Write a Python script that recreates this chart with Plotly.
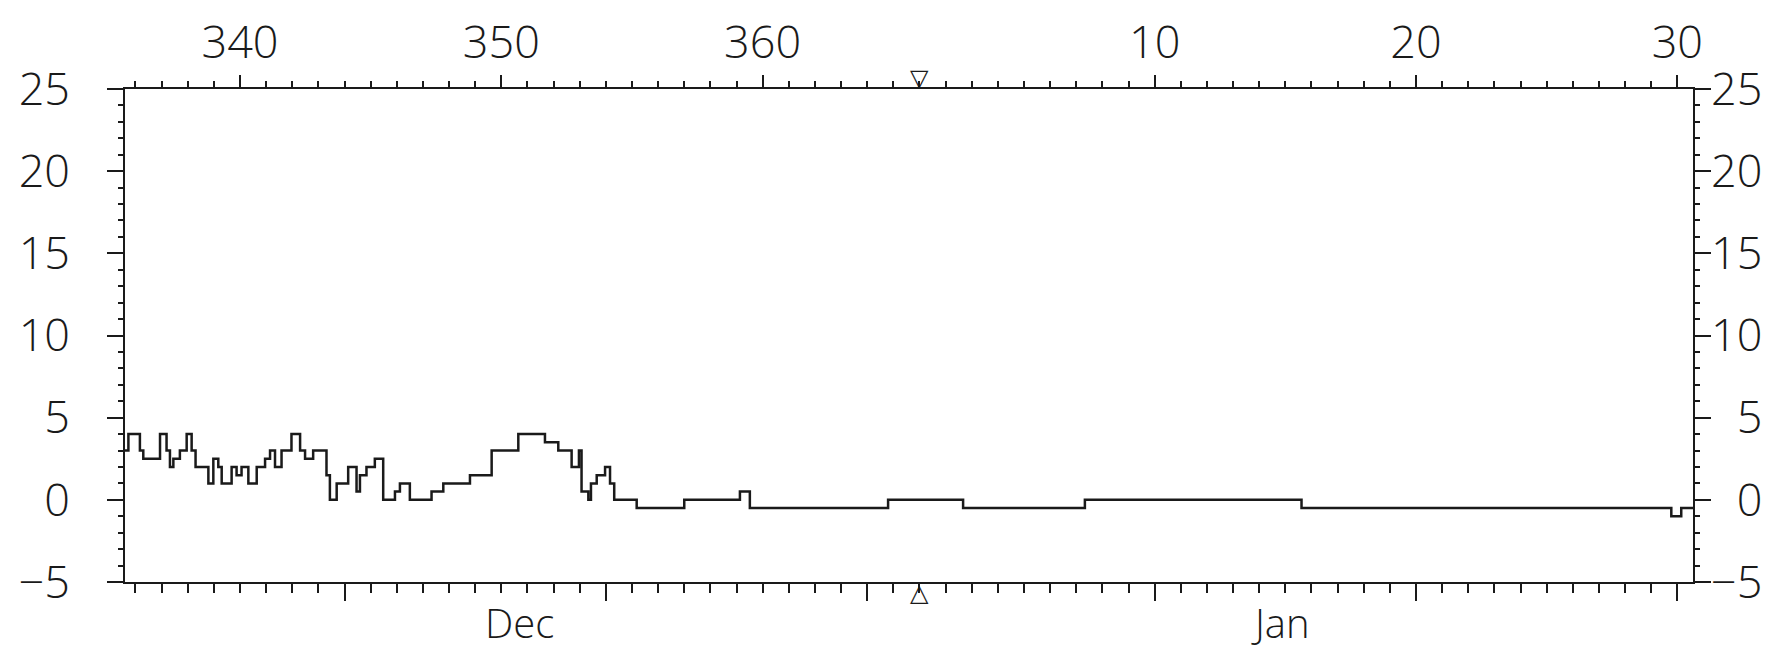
import plotly.graph_objects as go

# dias continuos: 1 de enero = 366 (el año anterior tiene 365 dias)
YEAR_DAYS = 365
x_range = [335.6, 395.6]
y_range = [-5, 25]

# escalones: dia en que cambia el valor y valor nuevo
cambio_dia = [335.60, 335.73, 336.17, 336.30, 336.94, 337.19, 337.32, 337.45, 337.70, 337.96,
              338.15, 338.30, 338.79, 338.98, 339.17, 339.30, 339.68, 339.87, 340.06, 340.32,
              340.64, 340.96, 341.15, 341.34, 341.59, 341.97, 342.30, 342.49, 342.80, 343.31,
              343.44, 343.70, 344.14, 344.46, 344.59, 344.84, 345.16, 345.48, 345.93, 346.12,
              346.50, 347.33, 347.78, 348.80, 349.63, 350.65, 351.67, 352.18, 352.69, 352.97,
              353.07, 353.33, 353.43, 353.65, 353.97, 354.16, 354.32, 355.18, 357.00, 359.13,
              359.51, 364.80, 367.67, 372.33, 380.62, 394.77, 395.15]
valor = [3, 4, 3, 2.5, 4, 3, 2, 2.5, 3, 4,
         3, 2, 1, 2.5, 2, 1, 2, 1.5, 2, 1,
         2, 2.5, 3, 2, 3, 4, 3, 2.5, 3, 1.5,
         0, 1, 2, 0.5, 1.5, 2, 2.5, 0, 0.5, 1,
         0, 0.5, 1, 1.5, 3, 4, 3.5, 3, 2, 3,
         0.5, 0, 1, 1.5, 2, 1, 0, -0.5, 0, 0.5,
         -0.5, 0, -0.5, 0, -0.5, -1, -0.5]

# ejes
top_tickvals = [340, 350, 360, 375, 385, 395]
top_ticktext = ['340', '350', '360', '10', '20', '30']
bottom_tickvals = [344, 354, 364, 375, 385, 395]
y_tickvals = [-5, 0, 5, 10, 15, 20, 25]
meses = ['Dec', 'Jan']
mes_centro = [350.7, 379.8]

W, H = 1782, 653
L, R, T, B = 117, 97, 81, 79
negro = '#1a1a1a'
fuente = dict(family='Open Sans', size=45, color=negro, weight=300)
fuente_mes = dict(family='Open Sans', size=40, color=negro, weight=300)
fuente_tri = dict(family='DejaVu Sans', size=24, color=negro)

xs = cambio_dia + [x_range[1]]
ys = valor + [valor[-1]]

fig = go.Figure()
fig.add_trace(go.Scatter(x=xs, y=ys, mode='lines', line=dict(shape='hv', color=negro, width=2.5),
                         showlegend=False, hoverinfo='skip'))
# traza invisible para los ejes secundarios
fig.add_trace(go.Scatter(x=[x_range[0]], y=[y_range[0]], xaxis='x2', yaxis='y2', mode='markers',
                         marker=dict(opacity=0), showlegend=False, hoverinfo='skip'))

# triangulos del cambio de año
fig.add_annotation(x=YEAR_DAYS + 1, y=1, xref='x', yref='paper', text='<b>\u25bd</b>', showarrow=False,
                   yanchor='bottom', yshift=-5, font=fuente_tri)
fig.add_annotation(x=YEAR_DAYS + 1, y=0, xref='x', yref='paper', text='<b>\u25b3</b>', showarrow=False,
                   yanchor='top', yshift=5, font=fuente_tri)

for mes, c in zip(meses, mes_centro):
    fig.add_annotation(x=c, y=0, xref='x', yref='paper', text=mes, showarrow=False,
                       yanchor='middle', yshift=-40, font=fuente_mes)

eje = dict(showline=True, linecolor=negro, linewidth=2, showgrid=False, zeroline=False,
           ticks='outside', tickcolor=negro, tickwidth=2, tickfont=fuente, automargin=False)

fig.update_layout(
    width=W, height=H,
    margin=dict(l=L, r=R, t=T, b=B),
    paper_bgcolor='white', plot_bgcolor='white',
    xaxis=dict(eje, range=x_range, tickmode='array', tickvals=bottom_tickvals, ticklen=17,
               showticklabels=False,
               minor=dict(tickmode='linear', tick0=0, dtick=1, ticks='outside', ticklen=9,
                          tickcolor=negro, tickwidth=2)),
    xaxis2=dict(eje, range=x_range, overlaying='x', matches='x', side='top', anchor='y',
                tickmode='array', tickvals=top_tickvals, ticktext=top_ticktext, ticklen=12,
                ticklabelstandoff=-1,
                minor=dict(tickmode='linear', tick0=0, dtick=1, ticks='outside', ticklen=6,
                           tickcolor=negro, tickwidth=2)),
    yaxis=dict(eje, range=y_range, tickmode='array', tickvals=y_tickvals, ticklen=16,
               ticklabelstandoff=28,
               minor=dict(tickmode='linear', tick0=0, dtick=1, ticks='outside', ticklen=5,
                          tickcolor=negro, tickwidth=2)),
    yaxis2=dict(eje, range=y_range, overlaying='y', matches='y', side='right', anchor='x',
                tickmode='array', tickvals=y_tickvals,
                ticktext=[('\u2212' + str(-v)) if v < 0 else str(v).rjust(2, '\u2007') for v in y_tickvals],
                ticklen=16, ticklabelstandoff=-9,
                minor=dict(tickmode='linear', tick0=0, dtick=1, ticks='outside', ticklen=5,
                           tickcolor=negro, tickwidth=2)),
)

fig.write_html('out.html')
